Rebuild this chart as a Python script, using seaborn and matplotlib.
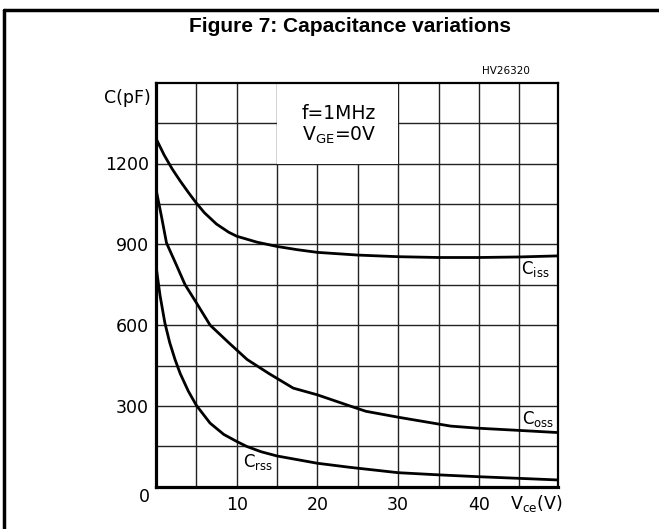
import pandas as pd
import matplotlib
matplotlib.use("Agg")
import matplotlib.pyplot as plt
import seaborn as sns
from matplotlib.lines import Line2D
from matplotlib.patches import Rectangle

# --- data ---
ciss_v = [0, 1, 2, 3, 4, 5, 6, 7.5, 9, 10, 12.5, 15, 17.5, 20, 25, 30, 35, 40, 45, 49.8]
ciss_c = [1293, 1232, 1180, 1135, 1093, 1053, 1017, 975, 945, 930, 908, 892, 880, 870, 860, 854, 851, 851, 853, 857]

coss_v = [0, 0.7, 1.3, 2.5, 3.6, 5, 6.7, 9, 11.3, 14, 17, 20, 24, 26, 30, 36.5, 40, 45, 49.8]
coss_c = [1105, 1000, 905, 825, 750, 683, 600, 535, 472, 420, 366, 341, 300, 280, 258, 225, 217, 209, 201]

crss_v = [0, 0.5, 1.1, 1.7, 2.36, 3, 4, 5, 6.7, 8.4, 10, 11.2, 13, 15, 20, 24, 30, 35, 40, 45, 49.8]
crss_c = [820, 710, 608, 535, 472, 420, 355, 302, 236, 194, 168, 150, 130, 114, 87, 72, 52, 44, 37, 31, 25]

x_ticks = [0, 5, 10, 15, 20, 25, 30, 35, 40, 45]
x_labels = ['', '', '10', '', '20', '', '30', '', '40', '']
y_ticks = [0, 150, 300, 450, 600, 750, 900, 1050, 1200, 1350]
y_labels = ['', '', '300', '', '600', '', '900', '', '1200', '']

frames = []
for name, v, c in [('Ciss', ciss_v, ciss_c), ('Coss', coss_v, coss_c), ('Crss', crss_v, crss_c)]:
    frames.append(pd.DataFrame({'Vce': v, 'C': c, 'curve': name}))
df = pd.concat(frames, ignore_index=True)

sns.set_style("white")
plt.rcParams['font.family'] = ['DejaVu Sans']
plt.rcParams['mathtext.fontset'] = 'dejavusans'
plt.rcParams['text.color'] = 'black'
plt.rcParams['xtick.color'] = 'black'
plt.rcParams['ytick.color'] = 'black'

fig = plt.figure(figsize=(6.59, 5.29), dpi=100)
ax = fig.add_axes([156 / 659, 1 - 486.7 / 529, 402 / 659, 404 / 529])

sns.lineplot(data=df, x='Vce', y='C', hue='curve', units='curve', estimator=None,
             sort=False, palette=['black'] * 3, linewidth=2.0, legend=False, ax=ax, zorder=3)

ax.set_xlim(0, 49.8)
ax.set_ylim(0, 1500)
ax.set_xticks(x_ticks)
ax.set_xticklabels(x_labels, fontsize=12.5)
ax.set_yticks(y_ticks)
ax.set_yticklabels(y_labels, fontsize=12.5)
ax.tick_params(axis='both', length=0, labelcolor='black')
ax.tick_params(axis='x', pad=7)
ax.tick_params(axis='y', pad=5)
ax.set_xlabel('')
ax.set_ylabel('')

ax.set_axisbelow(True)
ax.grid(True, color='#222222', linewidth=1.0)

# white box behind the test conditions
ax.add_patch(Rectangle((15, 1200), 15, 300, facecolor='white', edgecolor='none', zorder=1))

for side in ['left', 'bottom']:
    ax.spines[side].set_linewidth(2.3)
for side in ['top', 'right']:
    ax.spines[side].set_linewidth(1.6)
for s in ax.spines.values():
    s.set_color('black')

ax.text(18.1, 1385, 'f=1MHz', fontsize=13.5, va='center', ha='left', color='black')
ax.text(18.1, 1305, r'V$_{\mathrm{GE}}$=0V', fontsize=13.5, va='center', ha='left', color='black')

ax.text(45.2, 810, r'C$_{\mathrm{iss}}$', fontsize=12, va='center', ha='left', color='black')
ax.text(45.3, 252, r'C$_{\mathrm{oss}}$', fontsize=12, va='center', ha='left', color='black')
ax.text(10.8, 90, r'C$_{\mathrm{rss}}$', fontsize=12, va='center', ha='left', color='black')

# axis captions
ax.text(-0.7, 1445, 'C(pF)', fontsize=12.5, va='center', ha='right', color='black')
ax.text(-1.4, -38, '0', fontsize=12.5, va='center', ha='center', color='black')
ax.text(43.8, -62, r'V$_{\mathrm{ce}}$(V)', fontsize=12.5, va='center', ha='left', color='black')

fig.text(506 / 659, 1 - 71 / 529, 'HV26320', fontsize=7.5, ha='center', va='center', color='black')
fig.text(350 / 659, 1 - 27 / 529, 'Figure 7: Capacitance variations', fontsize=15,
         fontweight='bold', family='Liberation Sans', ha='center', va='center', color='black')

# page frame lines
fig.add_artist(Line2D([3.5 / 659, 1.0], [1 - 10 / 529] * 2, color='black', linewidth=2.5,
                      transform=fig.transFigure))
fig.add_artist(Line2D([3.5 / 659] * 2, [0, 1 - 10 / 529], color='black', linewidth=2.5,
                      transform=fig.transFigure))

fig.savefig('out.png', dpi=100)
